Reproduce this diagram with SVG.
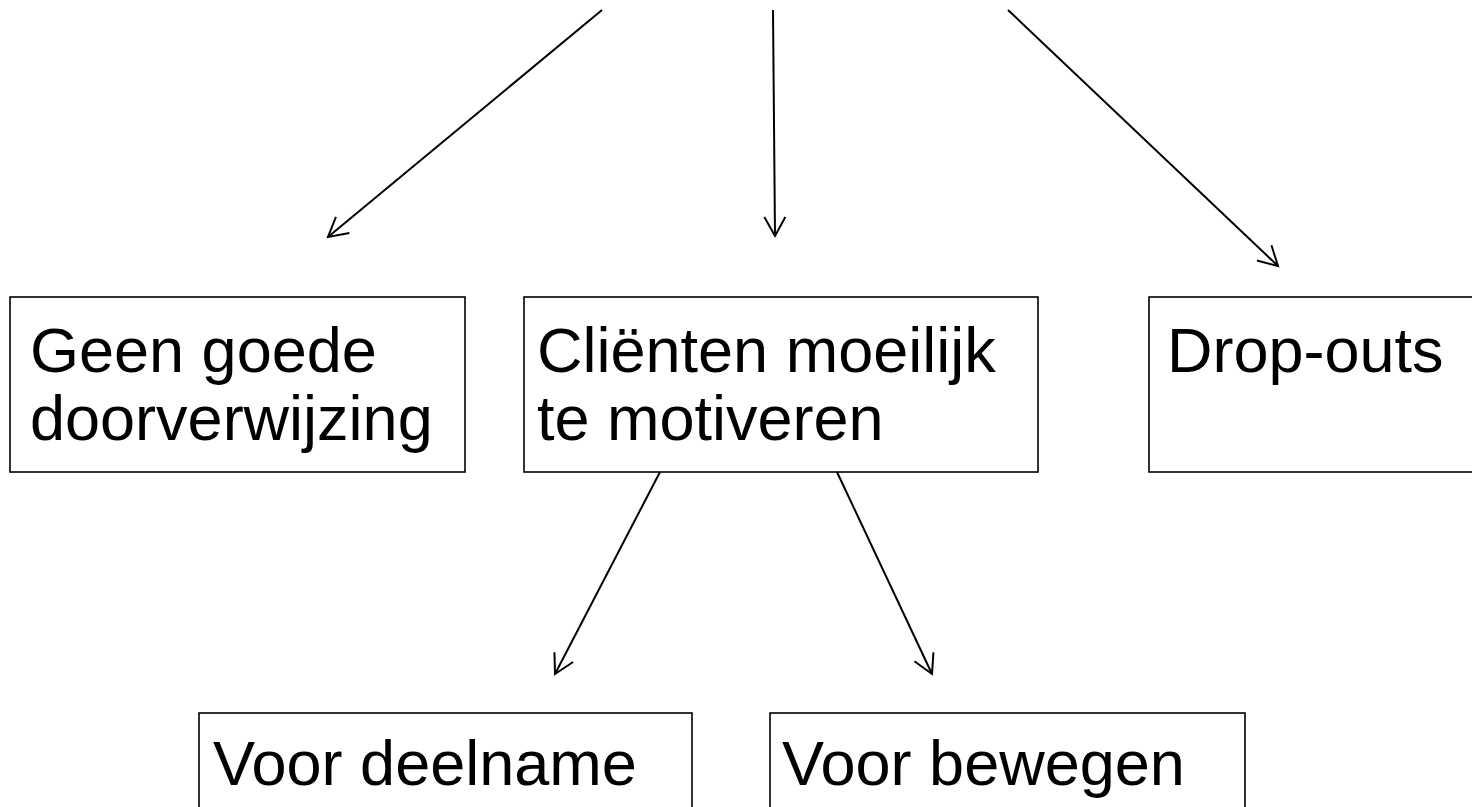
<svg xmlns="http://www.w3.org/2000/svg" width="1472" height="807" viewBox="0 0 1472 807">
<style>
.box{fill:#fff;stroke:#000;stroke-width:1.6}
.t{font-family:"Liberation Sans",Arial,sans-serif;font-size:63px;fill:#000}
.c{stroke:#000;stroke-width:2;fill:none;marker-end:url(#arr)}
</style>
<defs>
<marker id="arr" markerUnits="userSpaceOnUse" markerWidth="30" markerHeight="30" viewBox="-25 -15 30 30" refX="0" refY="0" orient="auto">
<path d="M-19,-10.5 L0,0 L-19,10.5" fill="none" stroke="#000" stroke-width="2"/>
</marker>
</defs>
<rect width="1472" height="807" fill="#fff"/>
<g id="connectors">
<line class="c" x1="602" y1="10" x2="328" y2="237"/>
<line class="c" x1="773" y1="10" x2="775" y2="236"/>
<line class="c" x1="1008" y1="10" x2="1278" y2="266"/>
<line class="c" x1="660" y1="472" x2="555" y2="674"/>
<line class="c" x1="837" y1="472" x2="932" y2="674"/>
</g>
<g id="node1">
<rect class="box" x="10" y="297" width="455" height="175"/>
<text class="t" x="30" y="372">Geen goede</text>
<text class="t" x="30" y="440">doorverwijzing</text>
</g>
<g id="node2">
<rect class="box" x="524" y="297" width="514" height="175"/>
<text class="t" x="537" y="372">Cliënten moeilijk</text>
<text class="t" x="537" y="440">te motiveren</text>
</g>
<g id="node3">
<rect class="box" x="1149" y="297" width="340" height="175"/>
<text class="t" x="1167" y="372">Drop-outs</text>
</g>
<g id="node4">
<rect class="box" x="199" y="713" width="493" height="120"/>
<text class="t" x="213" y="785">Voor deelname</text>
</g>
<g id="node5">
<rect class="box" x="770" y="713" width="475" height="120"/>
<text class="t" x="782" y="785">Voor bewegen</text>
</g>
</svg>
